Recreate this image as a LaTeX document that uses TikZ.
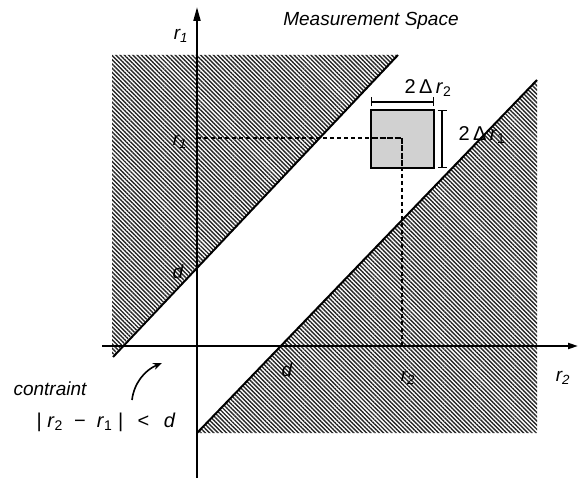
\documentclass[tikz,border=0pt]{standalone}
\usepackage{fontspec}
\setmainfont{Liberation Sans}
\usetikzlibrary{patterns.meta,arrows.meta}
\begin{document}
\begin{tikzpicture}[x=1pt,y=-1pt,
  axis/.style={line width=2pt},
  diag/.style={line width=2pt},
  hatch/.style={pattern={Lines[angle=-45,distance=3pt,line width=1.4pt]},pattern color=black!85},
  guide/.style={line width=1.3pt, dash pattern=on 4pt off 3pt},
  innerguide/.style={line width=1.4pt, dash pattern=on 6pt off 1.5pt},
  dim/.style={line width=1.3pt,{Bar[width=9pt]}-{Bar[width=9pt]}},
  lbl/.style={inner sep=0pt, font=\fontsize{19}{22}\selectfont\itshape},
  dlbl/.style={inner sep=0pt, font=\fontsize{20}{24}\selectfont}]
\useasboundingbox (0,0) rectangle (578,478);
% regions
\fill[hatch] (112,55) -- (398,55) -- (112,356) -- cycle;
\fill[hatch] (197,433) -- (537,80) -- (537,433) -- cycle;
% boundary lines
\coordinate (u1) at (398,55);
\coordinate (u2) at (113,357);
\coordinate (l1) at (537,80);
\coordinate (l2) at (197,433);
\draw[diag] (u1) -- (u2);
\draw[diag] (l1) -- (l2);
% box
\coordinate (b1) at (371,110);
\coordinate (b2) at (434,168);
\filldraw[line width=1.5pt, fill=black!18] (b1) rectangle (b2);
% dashed guides
\coordinate (g1) at (197,138);
\coordinate (g2) at (402,138);
\coordinate (g3) at (402,346);
\coordinate (gi1) at (372,138);
\coordinate (gi2) at (402,167);
\draw[guide] (g1) -- (gi1);
\draw[innerguide] (gi1) -- (g2) -- (gi2);
\draw[guide] (gi2) -- (g3);
% dimensions
\coordinate (h1) at (371,102);
\coordinate (h2) at (434,102);
\coordinate (v1) at (442,110);
\coordinate (v2) at (442,168);
\draw[dim] (h1) -- (h2);
\draw[dim] (v1) -- (v2);
% axes
\coordinate (yb) at (197,478);
\coordinate (yt) at (197,7);
\coordinate (xl) at (102,346);
\coordinate (xr) at (578,346);
\draw[axis,-{Triangle[length=14pt,width=7pt]}] (yb) -- (yt);
\draw[axis,-{Triangle[length=10pt,width=6pt]}] (xl) -- (xr);
% labels
\node[lbl] (ms) at (371,21) {Measurement Space};
\node[lbl] (r1t) at (181,36) {r\textsubscript{1}};
\node[lbl] (r1m) at (180,142) {r\textsubscript{1}};
\node[lbl] (dl) at (178,272) {d};
\node[lbl] (db) at (287,370) {d};
\node[lbl] (r2m) at (408,378) {r\textsubscript{2}};
\node[lbl] (r2r) at (563,378) {r\textsubscript{2}};
\node[dlbl] (dr2) at (428,88) {2\,Δ\,\textit{r}\textsubscript{2}};
\node[dlbl] (dr1) at (482,135) {2\,Δ\,\textit{r}\textsubscript{1}};
\node[lbl] (con) at (50,389) {contraint};
\node[dlbl] (eq) at (106,422) {|\;\textit{r}\textsubscript{2}\; −\; \textit{r}\textsubscript{1}\;|\;\, <\;\, \textit{d}};
% curved arrow
\coordinate (ca) at (132,400);
\coordinate (cb) at (162,363);
\draw[line width=1.6pt,-{Stealth[length=9pt,width=7pt]}] (ca) .. controls (134,383) and (145,370) .. (cb);
\end{tikzpicture}
\end{document}
